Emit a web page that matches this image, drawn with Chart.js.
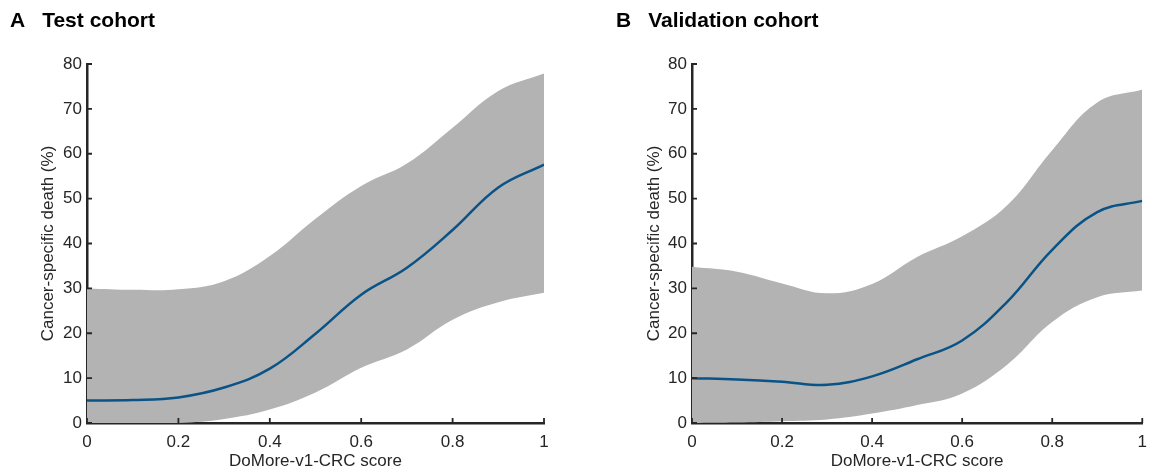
<!DOCTYPE html>
<html>
<head>
<meta charset="utf-8">
<script src="https://cdn.jsdelivr.net/npm/chart.js@4.4.0/dist/chart.umd.min.js"></script>
<style>
  body { margin: 0; background: #fff; }
  #wrap { position: relative; width: 1156px; height: 475px; font-family: "Liberation Sans", Arial, sans-serif; }
  .panel { position: absolute; top: 0; width: 578px; height: 475px; }
  .title { position: absolute; top: 9px; font-weight: bold; font-size: 21px; line-height: 21px; color: #000; white-space: nowrap; }
  .title span { margin-left: 17px; }
</style>
</head>
<body>
<div id="wrap">
  <div class="panel" style="left:0"><canvas id="chartA" width="578" height="475"></canvas></div>
  <div class="panel" style="left:578px"><canvas id="chartB" width="578" height="475"></canvas></div>
  <div class="title" style="left:10px">A<span>Test cohort</span></div>
  <div class="title" style="left:616px">B<span>Validation cohort</span></div>
</div>
<script>
// DoMore score (x) and estimated cancer-specific death (%) with 95% band
var scoreX = [0, 0.1, 0.2, 0.3, 0.4, 0.5, 0.6, 0.7, 0.8, 0.9, 1.0];

var testMean  = [5.0, 5.1, 5.7, 7.9, 12.1, 19.9, 28.6, 34.6, 43.0, 52.5, 57.6];
var testUpper = [30.0, 29.7, 29.8, 31.6, 37.2, 45.5, 52.8, 57.8, 65.8, 74.0, 77.9];
var testLower = [0, 0, 0, 0.9, 3.0, 6.8, 12.3, 16.4, 23.0, 26.9, 29.0];

var valMean  = [10.0, 9.7, 9.2, 8.5, 10.4, 14.2, 18.4, 27.0, 38.6, 47.0, 49.5];
var valUpper = [34.8, 33.7, 31.1, 28.9, 31.0, 37.0, 41.6, 48.5, 60.8, 71.4, 74.3];
var valLower = [0, 0.1, 0.4, 0.8, 2.1, 4.0, 6.6, 13.0, 22.5, 28.0, 29.5];

var xTicks = [0, 0.2, 0.4, 0.6, 0.8, 1];
var yTicks = [0, 10, 20, 30, 40, 50, 60, 70, 80];

var axisColor = '#262626';
var bandColor = '#b3b3b3';
var lineColor = '#0a5387';
var fontFam = '"Liberation Sans", Arial, sans-serif';

function pts(ys) {
  return scoreX.map(function (x, i) { return { x: x, y: ys[i] }; });
}

// MATLAB style ticks pointing into the plot
var inwardTicks = {
  id: 'inwardTicks',
  afterDraw: function (chart) {
    var ctx = chart.ctx, a = chart.chartArea;
    var sx = chart.scales.x, sy = chart.scales.y;
    ctx.save();
    ctx.strokeStyle = axisColor;
    ctx.lineWidth = 1.8;
    ctx.beginPath();
    xTicks.forEach(function (v) {
      var px = sx.getPixelForValue(v);
      ctx.moveTo(px, a.bottom);
      ctx.lineTo(px, a.bottom - 5);
    });
    yTicks.forEach(function (v) {
      var py = sy.getPixelForValue(v);
      ctx.moveTo(a.left, py);
      ctx.lineTo(a.left + 5, py);
    });
    ctx.stroke();
    ctx.restore();
  }
};

function makeChart(id, mean, upper, lower, padRight, yTitlePad) {
  return new Chart(document.getElementById(id), {
    type: 'line',
    data: {
      datasets: [
        { data: pts(upper), order: 2, borderWidth: 0, pointRadius: 0, fill: '+1', backgroundColor: bandColor, borderColor: bandColor },
        { data: pts(lower), order: 2, borderWidth: 0, pointRadius: 0, fill: false, borderColor: bandColor },
        { data: pts(mean), order: 0, borderWidth: 2.5, pointRadius: 0, fill: false, borderColor: lineColor }
      ]
    },
    options: {
      responsive: false,
      animation: false,
      layout: { padding: { top: 64, right: padRight, left: 0, bottom: 0 } },
      plugins: { legend: { display: false }, tooltip: { enabled: false } },
      elements: { line: { tension: 0.4 } },
      scales: {
        x: {
          type: 'linear', min: 0, max: 1, z: 1,
          grid: { display: false, drawTicks: false },
          border: { display: true, color: axisColor, width: 2.5 },
          afterBuildTicks: function (s) { s.ticks = xTicks.map(function (v) { return { value: v }; }); },
          ticks: {
            padding: 9, color: axisColor, font: { size: 17, family: fontFam },
            callback: function (v) { return String(+v.toFixed(1)); }
          },
          title: { display: true, text: 'DoMore-v1-CRC score', color: axisColor, font: { size: 17, family: fontFam }, padding: { top: 0, bottom: 3 } },
          afterFit: function (s) { s.height = 52; }
        },
        y: {
          min: 0, max: 80, z: 1,
          grid: { display: false, drawTicks: false },
          border: { display: true, color: axisColor, width: 2.5 },
          afterBuildTicks: function (s) { s.ticks = yTicks.map(function (v) { return { value: v }; }); },
          ticks: { padding: 5, color: axisColor, font: { size: 17, family: fontFam } },
          title: { display: true, text: 'Cancer-specific death (%)', color: axisColor, font: { size: 17, family: fontFam }, padding: { top: yTitlePad, bottom: 0 } },
          afterFit: function (s) { s.width = (id === 'chartA') ? 87 : 114; }
        }
      }
    },
    plugins: [inwardTicks]
  });
}

makeChart('chartA', testMean, testUpper, testLower, 34, 38);
makeChart('chartB', valMean, valUpper, valLower, 7, 66);
</script>
</body>
</html>
